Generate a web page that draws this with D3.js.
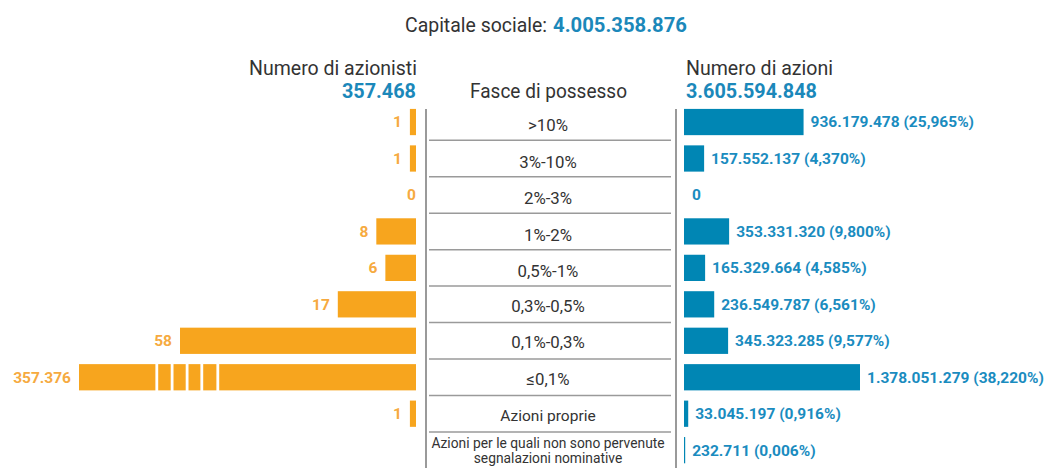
<!DOCTYPE html>
<html lang="it">
<head>
<meta charset="utf-8">
<script src="https://cdn.jsdelivr.net/npm/d3@7/dist/d3.min.js"></script>
<style>
  html, body { margin: 0; padding: 0; background: #fff; }
  svg { display: block; font-family: Roboto, "Noto Sans", sans-serif; }
</style>
</head>
<body>
<svg id="chart" width="1050" height="468"></svg>
<script>
// Fasce di possesso (righe della tabella centrale)
const fasce = [">10%", "3%-10%", "2%-3%", "1%-2%", "0,5%-1%", "0,3%-0,5%",
  "0,1%-0,3%", "≤0,1%", "Azioni proprie",
  "Azioni per le quali non sono pervenute segnalazioni nominative"];

// Numero di azionisti per fascia (l'ultima riga non ha azionisti)
const azionisti = [1, 1, 0, 8, 6, 17, 58, 357376, 1, null];

// Numero di azioni per fascia
const azioni = [936179478, 157552137, 0, 353331320, 165329664, 236549787,
  345323285, 1378051279, 33045197, 232711];

// Totali riportati in testata
const capitaleSociale = 4005358876;
const totaleAzionisti = 357468;
const totaleAzioni = 3605594848;

const it = d3.formatLocale({ decimal: ",", thousands: ".", grouping: [3], currency: ["", " €"] });
const fmtInt = it.format(",d");
const fmtPct = it.format(".3f");

const svg = d3.select("#chart");
const C = {
  orange: "#f7a51e", orangeText: "#f6aa40",
  blue: "#0086b4", blueText: "#1a8cbf", blueHead: "#1b88ba",
  text: "#333", rule: "#9a9a9a"
};

// Geometria
const axisL = 416;      // base delle barre azionisti (crescono verso sinistra)
const axisR = 684;      // base delle barre azioni (crescono verso destra)
const tableX0 = 429, tableX1 = 671, tableMid = 548;

const y = d3.scaleBand()
  .domain(d3.range(fasce.length))
  .range([103.8, 468.4])
  .paddingInner(0.28)
  .paddingOuter(0.14);
const bw = y.bandwidth();

// Scala azionisti: potenza < 1 per rendere leggibili le fasce piccole
const xL = d3.scalePow().exponent(0.9).domain([0, 58]).range([0, 236]);
const brokenLen = 337;                     // lunghezza della barra interrotta
const breakGaps = [76.4, 91.7, 106.7, 121.4, 137.4];  // tagli dalla punta della barra

// Scala azioni
const xR = d3.scaleLinear().domain([0, 1378051279]).range([0, 176]);

// ---- Testata ----
svg.append("text")
  .attr("x", 405).attr("y", 31.7)
  .attr("font-size", 21).attr("fill", C.text)
  .attr("textLength", 142).attr("lengthAdjust", "spacingAndGlyphs")
  .text("Capitale sociale:");
svg.append("text")
  .attr("x", 553).attr("y", 31.7)
  .attr("font-size", 20).attr("font-weight", 700).attr("fill", C.blueHead)
  .attr("textLength", 134).attr("lengthAdjust", "spacingAndGlyphs")
  .text(fmtInt(capitaleSociale));

svg.append("text")
  .attr("x", 417).attr("y", 75).attr("text-anchor", "end")
  .attr("font-size", 21).attr("fill", C.text)
  .attr("textLength", 168).attr("lengthAdjust", "spacingAndGlyphs")
  .text("Numero di azionisti");
svg.append("text")
  .attr("x", 416).attr("y", 98.3).attr("text-anchor", "end")
  .attr("font-size", 20).attr("font-weight", 700).attr("fill", C.blueHead)
  .attr("textLength", 74).attr("lengthAdjust", "spacingAndGlyphs")
  .text(fmtInt(totaleAzionisti));

svg.append("text")
  .attr("x", 470).attr("y", 98.3)
  .attr("font-size", 21).attr("fill", C.text)
  .attr("textLength", 157).attr("lengthAdjust", "spacingAndGlyphs")
  .text("Fasce di possesso");

svg.append("text")
  .attr("x", 686).attr("y", 75)
  .attr("font-size", 21).attr("fill", C.text)
  .attr("textLength", 147).attr("lengthAdjust", "spacingAndGlyphs")
  .text("Numero di azioni");
svg.append("text")
  .attr("x", 686).attr("y", 98.3)
  .attr("font-size", 20).attr("font-weight", 700).attr("fill", C.blueHead)
  .attr("textLength", 131).attr("lengthAdjust", "spacingAndGlyphs")
  .text(fmtInt(totaleAzioni));

// ---- Tabella centrale ----
const tableTop = y(0);
svg.append("line").attr("x1", 426).attr("x2", 426).attr("y1", tableTop).attr("y2", 468)
  .attr("stroke", C.rule).attr("stroke-width", 2);
svg.append("line").attr("x1", 676).attr("x2", 676).attr("y1", tableTop).attr("y2", 468)
  .attr("stroke", C.rule).attr("stroke-width", 2);

svg.append("g").selectAll("line")
  .data(d3.range(1, fasce.length))
  .join("line")
  .attr("x1", tableX0).attr("x2", tableX1)
  .attr("y1", i => y(i) - y.step() * y.paddingInner() / 2)
  .attr("y2", i => y(i) - y.step() * y.paddingInner() / 2)
  .attr("stroke", C.rule).attr("stroke-width", 1.5);

const labels = svg.append("g").attr("fill", C.text).attr("text-anchor", "middle");
fasce.forEach((f, i) => {
  const cy = y(i) + bw / 2;
  if (i === fasce.length - 1) {
    const lines = ["Azioni per le quali non sono pervenute", "segnalazioni nominative"];
    labels.append("text").attr("x", tableMid).attr("y", cy + 1)
      .attr("font-size", 13.8)
      .selectAll("tspan").data(lines).join("tspan")
      .attr("x", tableMid).attr("dy", (d, k) => k === 0 ? "-0.25em" : "1.1em")
      .text(d => d);
  } else {
    labels.append("text").attr("x", tableMid).attr("y", cy + (i < 5 ? 3.5 : 1.5))
      .attr("dy", "0.35em")
      .attr("font-size", f === "Azioni proprie" ? 15.5 : 16.8)
      .text(f);
  }
});

// ---- Barre azionisti (sinistra) ----
const left = svg.append("g");
azionisti.forEach((v, i) => {
  if (v === null) return;
  const broken = v > xL.domain()[1];
  const w = broken ? brokenLen : xL(v);
  const cy = y(i) + bw / 2;
  if (w > 0) {
    left.append("rect")
      .attr("x", axisL - w).attr("y", y(i))
      .attr("width", w).attr("height", bw)
      .attr("fill", C.orange);
  }
  if (broken) {
    left.selectAll(null).data(breakGaps).enter().append("rect")
      .attr("x", g => axisL - w + g).attr("y", y(i) - 1)
      .attr("width", 2.8).attr("height", bw + 2)
      .attr("fill", "#fff");
  }
  left.append("text")
    .attr("x", w > 0 ? axisL - w - 8 : axisL)
    .attr("y", cy).attr("dy", "0.35em")
    .attr("text-anchor", "end")
    .attr("font-size", 15.5).attr("font-weight", 700)
    .attr("fill", C.orangeText)
    .text(fmtInt(v));
});

// ---- Barre azioni (destra) ----
const right = svg.append("g");
azioni.forEach((v, i) => {
  const w = v > 0 ? Math.max(1.2, xR(v)) : 0;
  const cy = y(i) + bw / 2;
  if (w > 0) {
    right.append("rect")
      .attr("x", axisR).attr("y", y(i))
      .attr("width", w).attr("height", bw)
      .attr("fill", C.blue);
  }
  const label = v > 0
    ? `${fmtInt(v)} (${fmtPct(v / totaleAzioni * 100)}%)`
    : fmtInt(v);
  right.append("text")
    .attr("x", axisR + w + (v > 0 ? 7 : 8))
    .attr("y", cy).attr("dy", "0.35em")
    .attr("font-size", 15.5).attr("font-weight", 700)
    .attr("fill", C.blueText)
    .text(label);
});
</script>
</body>
</html>
